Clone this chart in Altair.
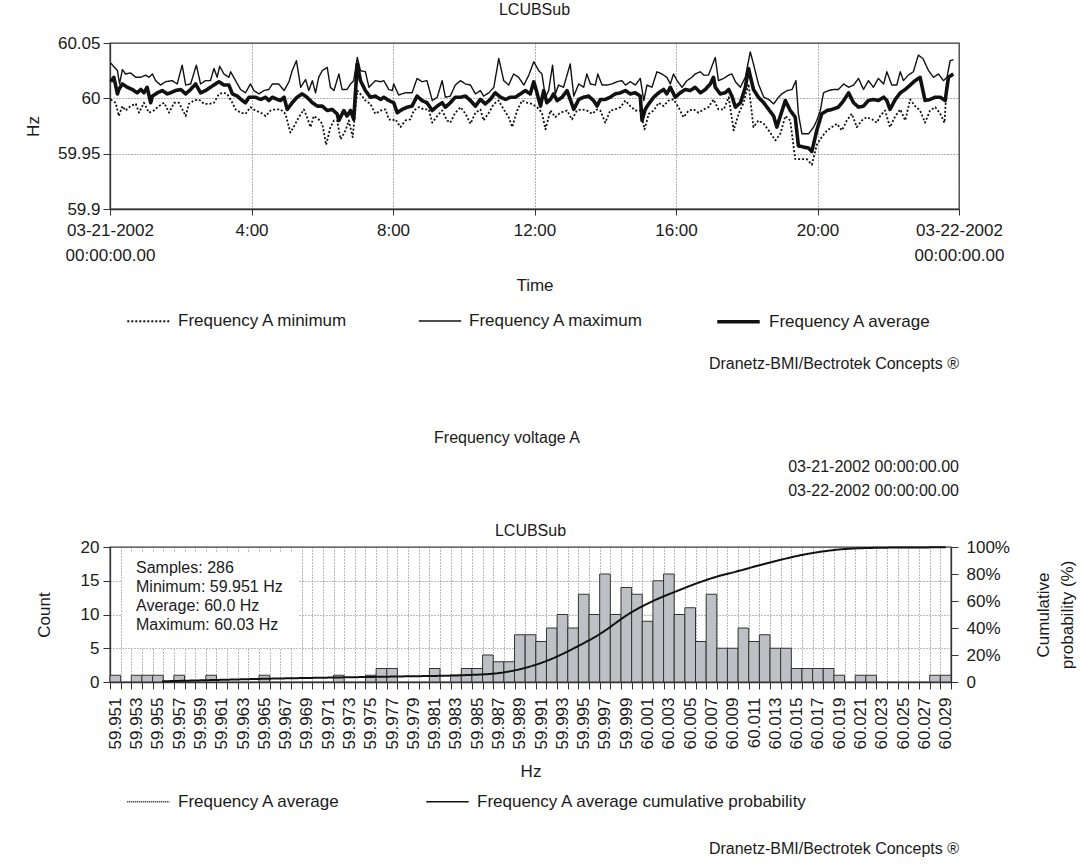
import json
import altair as alt
import pandas as pd

FONT = "Liberation Sans"
INK = "#1a1a1a"

# ---------------- top chart: frequency over the day (hours since 03-21-2002 00:00) ----------------
MAX_H = [0.02, 0.21, 0.27, 0.35, 0.44, 0.58, 0.73, 0.87, 1.01, 1.10, 1.20, 1.29, 1.43, 1.57, 1.76, 1.90,
         2.04, 2.14, 2.28, 2.44, 2.56, 2.70, 2.84, 2.94, 3.03, 3.10, 3.22, 3.36, 3.41, 3.55, 3.69, 3.83,
         3.97, 4.07, 4.21, 4.35, 4.49, 4.59, 4.77, 4.92, 5.06, 5.15, 5.27, 5.39, 5.53, 5.62, 5.72, 5.81,
         5.90, 6.00, 6.14, 6.23, 6.33, 6.47, 6.56, 6.70, 6.80, 6.89, 6.99, 7.08, 7.22, 7.32, 7.41, 7.50,
         7.65, 7.74, 7.88, 7.98, 8.02, 8.16, 8.35, 8.54, 8.68, 8.82, 8.96, 9.11, 9.25, 9.39, 9.48, 9.62,
         9.76, 9.91, 10.05, 10.19, 10.33, 10.47, 10.56, 10.71, 10.85, 10.99, 11.13, 11.27, 11.41, 11.55,
         11.70, 11.84, 11.98, 12.12, 12.21, 12.31, 12.40, 12.51, 12.59, 12.68, 12.82, 13.01, 13.11, 13.25,
         13.39, 13.48, 13.58, 13.72, 13.79, 13.91, 14.05, 14.19, 14.33, 14.47, 14.57, 14.71, 14.85, 14.99,
         15.09, 15.18, 15.32, 15.46, 15.60, 15.74, 15.84, 15.93, 16.03, 16.17, 16.31, 16.45, 16.54, 16.69,
         16.78, 16.92, 17.11, 17.20, 17.35, 17.49, 17.58, 17.68, 17.82, 17.96, 18.10, 18.19, 18.33, 18.48,
         18.62, 18.76, 18.90, 18.99, 19.14, 19.28, 19.39, 19.46, 19.56, 19.75, 19.89, 19.98, 20.08, 20.17,
         20.31, 20.45, 20.59, 20.74, 20.88, 21.02, 21.16, 21.30, 21.44, 21.58, 21.72, 21.87, 21.96, 22.10,
         22.24, 22.34, 22.43, 22.57, 22.71, 22.85, 22.98, 23.14, 23.28, 23.42, 23.56, 23.66, 23.75, 23.84]
MAX_HZ = [60.032, 60.025, 60.013, 60.026, 60.022, 60.023, 60.019, 60.019, 60.021, 60.019, 60.022, 60.016,
          60.012, 60.015, 60.016, 60.013, 60.030, 60.012, 60.013, 60.030, 60.013, 60.016, 60.016, 60.027,
          60.019, 60.029, 60.022, 60.019, 60.024, 60.016, 60.008, 60.005, 60.013, 60.007, 60.004, 60.007,
          60.008, 60.013, 60.013, 60.007, 60.015, 60.025, 60.034, 60.010, 60.017, 60.007, 60.016, 60.005,
          60.019, 60.025, 60.028, 60.010, 60.007, 60.022, 60.008, 60.008, 60.013, 60.016, 60.037, 60.025,
          60.024, 60.010, 60.013, 60.016, 60.015, 60.016, 60.008, 60.007, 60.013, 60.003, 60.005, 60.005,
          60.018, 60.015, 60.016, 59.998, 60.001, 60.016, 60.001, 60.002, 60.012, 60.016, 60.013, 60.012,
          60.004, 60.007, 60.002, 60.005, 60.010, 60.036, 60.016, 60.012, 60.022, 60.019, 60.012, 60.021,
          60.033, 60.025, 60.022, 60.001, 60.007, 60.030, 60.004, 60.012, 60.010, 60.031, 60.002, 60.013,
          60.010, 60.022, 60.013, 60.012, 60.022, 60.012, 60.012, 60.013, 60.015, 60.016, 60.012, 60.015,
          60.012, 60.018, 59.998, 60.012, 60.010, 60.024, 60.022, 60.019, 60.013, 60.022, 60.016, 60.010,
          60.016, 60.019, 60.022, 60.024, 60.021, 60.021, 60.037, 60.016, 60.018, 60.021, 60.022, 60.015,
          60.010, 60.019, 60.042, 60.031, 60.013, 60.001, 59.999, 59.995, 60.001, 60.004, 60.007, 60.008,
          60.016, 59.986, 59.968, 59.968, 59.974, 59.980, 59.989, 60.005, 60.007, 60.008, 60.008, 60.013,
          60.010, 60.012, 60.018, 60.008, 60.016, 60.010, 60.018, 60.013, 60.024, 60.012, 60.012, 60.024,
          60.016, 60.021, 60.024, 60.039, 60.036, 60.025, 60.019, 60.022, 60.016, 60.019, 60.034, 60.035]

AVG_H = [0.02, 0.11, 0.21, 0.25, 0.35, 0.49, 0.63, 0.77, 0.87, 0.96, 1.05, 1.15, 1.20, 1.34, 1.48, 1.62,
         1.71, 1.85, 2.00, 2.14, 2.28, 2.42, 2.56, 2.70, 2.84, 2.98, 3.08, 3.22, 3.36, 3.46, 3.60, 3.74,
         3.83, 3.93, 4.11, 4.26, 4.40, 4.49, 4.59, 4.73, 4.82, 4.92, 5.01, 5.15, 5.29, 5.43, 5.57, 5.72,
         5.86, 6.00, 6.14, 6.28, 6.42, 6.47, 6.61, 6.70, 6.80, 6.89, 6.99, 7.08, 7.22, 7.36, 7.50, 7.65,
         7.74, 7.88, 8.02, 8.12, 8.26, 8.40, 8.54, 8.68, 8.82, 8.96, 9.11, 9.25, 9.39, 9.48, 9.62, 9.76,
         9.91, 10.05, 10.19, 10.33, 10.47, 10.61, 10.75, 10.89, 11.04, 11.18, 11.32, 11.46, 11.60, 11.74,
         11.88, 11.98, 12.07, 12.17, 12.26, 12.35, 12.45, 12.54, 12.64, 12.78, 12.92, 13.01, 13.11, 13.25,
         13.39, 13.53, 13.67, 13.77, 13.86, 14.00, 14.14, 14.28, 14.43, 14.57, 14.71, 14.85, 14.99, 15.04,
         15.13, 15.23, 15.37, 15.51, 15.65, 15.74, 15.84, 15.98, 16.12, 16.26, 16.40, 16.54, 16.69, 16.83,
         16.97, 17.06, 17.11, 17.25, 17.39, 17.49, 17.58, 17.68, 17.82, 17.96, 18.05, 18.19, 18.33, 18.48,
         18.62, 18.76, 18.85, 19.09, 19.23, 19.37, 19.46, 19.75, 19.84, 19.98, 20.12, 20.27, 20.41, 20.59,
         20.74, 20.88, 21.02, 21.16, 21.30, 21.44, 21.58, 21.72, 21.87, 21.96, 22.05, 22.20, 22.34, 22.48,
         22.62, 22.76, 22.90, 23.04, 23.18, 23.33, 23.47, 23.61, 23.70, 23.84]
AVG_HZ = [60.015, 60.019, 60.004, 60.008, 60.013, 60.010, 60.008, 60.005, 60.008, 60.005, 60.010, 59.996,
          60.002, 60.005, 60.007, 60.004, 60.005, 60.007, 60.008, 60.004, 60.008, 60.013, 60.005, 60.007,
          60.010, 60.013, 60.015, 60.012, 60.012, 60.004, 60.002, 59.998, 59.996, 60.001, 60.001, 59.999,
          60.001, 59.998, 60.001, 59.999, 59.998, 60.001, 59.990, 59.996, 60.001, 60.004, 60.001, 59.996,
          59.993, 59.993, 59.989, 59.990, 59.986, 59.980, 59.989, 59.984, 59.989, 59.981, 60.031, 60.016,
          60.007, 60.001, 60.002, 59.999, 60.001, 59.998, 59.996, 59.987, 59.990, 59.992, 59.993, 60.002,
          59.998, 59.996, 59.989, 59.993, 59.996, 59.992, 59.996, 60.001, 60.001, 60.002, 59.998, 59.993,
          59.999, 59.995, 59.999, 60.005, 60.001, 59.999, 60.001, 60.001, 60.004, 60.007, 60.004, 60.015,
          60.005, 59.993, 60.007, 59.996, 59.999, 60.004, 59.998, 60.001, 60.007, 59.999, 59.990, 59.999,
          60.001, 60.002, 59.998, 59.993, 59.999, 59.999, 60.001, 60.004, 60.005, 60.007, 60.004, 60.005,
          60.002, 59.980, 59.990, 59.995, 60.001, 60.005, 60.008, 60.004, 60.010, 60.001, 60.005, 60.008,
          60.007, 60.010, 60.005, 60.008, 60.013, 60.019, 60.010, 60.004, 60.005, 60.008, 60.002, 59.992,
          59.996, 60.010, 60.027, 60.008, 60.001, 59.996, 59.990, 59.984, 59.974, 59.998, 59.989, 59.983,
          59.957, 59.955, 59.952, 59.971, 59.986, 59.989, 59.990, 59.992, 59.998, 60.005, 59.996, 59.992,
          59.993, 59.998, 59.999, 59.998, 60.001, 59.998, 59.990, 59.999, 60.005, 60.008, 60.012, 60.016,
          60.019, 59.998, 59.999, 60.001, 60.001, 59.998, 60.019, 60.022]

MIN_H = [0.02, 0.16, 0.25, 0.35, 0.44, 0.58, 0.73, 0.82, 0.96, 1.10, 1.24, 1.38, 1.53, 1.67, 1.81, 1.95,
         2.14, 2.23, 2.37, 2.51, 2.66, 2.80, 2.94, 3.08, 3.22, 3.31, 3.46, 3.55, 3.69, 3.83, 3.97, 4.11,
         4.26, 4.40, 4.54, 4.68, 4.82, 4.96, 5.10, 5.24, 5.34, 5.48, 5.57, 5.67, 5.76, 5.90, 6.00, 6.11,
         6.23, 6.33, 6.42, 6.52, 6.66, 6.75, 6.86, 6.99, 7.13, 7.22, 7.36, 7.50, 7.65, 7.79, 7.88, 7.98,
         8.07, 8.21, 8.35, 8.49, 8.59, 8.73, 8.87, 9.01, 9.11, 9.25, 9.39, 9.53, 9.62, 9.76, 9.91, 10.05,
         10.19, 10.33, 10.47, 10.56, 10.71, 10.85, 10.99, 11.13, 11.27, 11.37, 11.51, 11.65, 11.79, 11.93,
         12.07, 12.21, 12.31, 12.45, 12.59, 12.73, 12.92, 13.06, 13.20, 13.34, 13.48, 13.63, 13.77, 13.86,
         14.00, 14.14, 14.28, 14.43, 14.57, 14.71, 14.85, 14.99, 15.11, 15.23, 15.37, 15.51, 15.65, 15.79,
         15.93, 16.07, 16.21, 16.36, 16.50, 16.64, 16.78, 16.92, 17.06, 17.20, 17.35, 17.49, 17.63, 17.77,
         17.91, 18.05, 18.19, 18.33, 18.48, 18.62, 18.81, 18.95, 19.09, 19.23, 19.37, 19.56, 19.70, 19.84,
         19.98, 20.12, 20.27, 20.41, 20.55, 20.69, 20.83, 20.97, 21.11, 21.25, 21.39, 21.54, 21.68, 21.77,
         21.91, 22.05, 22.20, 22.34, 22.48, 22.62, 22.76, 22.90, 23.04, 23.18, 23.33, 23.47, 23.59, 23.66]
MIN_HZ = [59.999, 59.996, 59.984, 59.993, 59.989, 59.993, 59.995, 59.987, 59.996, 59.987, 59.989, 59.993,
          59.996, 59.987, 59.996, 59.996, 59.984, 59.995, 59.998, 59.999, 59.995, 59.995, 59.996, 60.004,
          60.005, 60.004, 59.996, 59.990, 59.987, 59.986, 59.992, 59.989, 59.987, 59.984, 59.989, 59.990,
          59.990, 59.986, 59.969, 59.977, 59.983, 59.990, 59.983, 59.974, 59.984, 59.981, 59.977, 59.958,
          59.974, 59.980, 59.980, 59.963, 59.971, 59.980, 59.965, 60.007, 60.002, 59.998, 59.995, 59.986,
          59.989, 59.990, 59.981, 59.980, 59.981, 59.974, 59.980, 59.981, 59.989, 59.992, 59.990, 59.990,
          59.978, 59.984, 59.989, 59.980, 59.978, 59.987, 59.992, 59.986, 59.977, 59.987, 59.990, 59.980,
          59.987, 59.995, 59.998, 59.990, 59.983, 59.974, 59.989, 59.998, 59.996, 59.995, 59.992, 59.987,
          59.972, 59.989, 59.983, 59.987, 59.989, 59.981, 59.989, 59.990, 59.989, 59.986, 59.990, 59.989,
          59.978, 59.989, 59.990, 59.992, 59.998, 59.993, 59.989, 59.989, 59.972, 59.986, 59.989, 59.996,
          59.993, 59.998, 59.999, 59.992, 59.983, 59.989, 59.990, 59.987, 59.990, 59.992, 59.999, 59.990,
          59.990, 60.001, 59.971, 59.986, 59.996, 60.013, 59.974, 59.980, 59.977, 59.971, 59.962, 59.968,
          59.984, 59.980, 59.945, 59.945, 59.945, 59.940, 59.958, 59.965, 59.971, 59.974, 59.977, 59.971,
          59.980, 59.986, 59.974, 59.980, 59.983, 59.981, 59.978, 59.984, 59.989, 59.974, 59.984, 59.990,
          59.980, 59.999, 59.993, 59.989, 59.978, 59.989, 59.992, 59.986, 59.978, 60.015]

SERIES = ["Frequency A minimum", "Frequency A maximum", "Frequency A average"]
TOP_TICKS = [0, 4, 8, 12, 16, 20, 24]
TOP_TICK_TEXT = [["03-21-2002", "00:00:00.00"], "4:00", "8:00", "12:00", "16:00", "20:00",
                 ["03-22-2002", "00:00:00.00"]]
TOP_Y_TICKS = [59.9, 59.95, 60.0, 60.05]
FOOTER = "Dranetz-BMI/Bectrotek Concepts \u00ae"
PANEL_TITLE = "LCUBSub"

# ---------------- bottom chart: histogram of the average frequency ----------------
BIN_HZ = [round(59.951 + 0.001 * i, 3) for i in range(79)]
COUNTS = [1, 0, 1, 1, 1, 0, 1, 0, 0, 1, 0, 0, 0, 0, 1, 0, 0, 0, 0, 0,
          0, 1, 0, 0, 1, 2, 2, 0, 0, 0, 2, 0, 1, 2, 2, 4, 3, 3, 7, 7,
          6, 8, 10, 8, 13, 10, 16, 10, 14, 13, 9, 15, 16, 10, 11, 6, 13, 5, 5, 8,
          6, 7, 5, 5, 2, 2, 2, 2, 1, 0, 1, 1, 0, 0, 0, 0, 0, 1, 1]
CUM_HZ = [59.9554, 59.9604, 59.9651, 59.9714, 59.9776, 59.9839, 59.9870, 59.9895, 59.9915, 59.9945,
          59.9964, 59.9995, 60.0014, 60.0036, 60.0058, 60.0077, 60.0089, 60.0121, 60.0161, 60.0199,
          60.0233, 60.0283, 60.0290]
CUM_PCT = [0.5, 1.5, 2.4, 3.3, 4.1, 5.1, 6.6, 10.5, 15.6, 26.7,
           35.0, 51.7, 59.6, 66.9, 73.6, 78.5, 80.9, 87.7, 95.0, 98.7,
           99.5, 99.8, 99.9]
STATS = ["Samples: 286", "Minimum: 59.951 Hz", "Average: 60.0 Hz", "Maximum: 60.03 Hz"]
HIST_SERIES = ["Frequency A average", "Frequency A average cumulative probability"]
EDGES = [round(59.9505 + 0.001 * k, 4) for k in range(80)]
EDGE_LABELS = [f"{59.951 + 0.001 * k:.3f}" if (k % 2 == 0 and k < 79) else "" for k in range(80)]
COUNT_TICKS = [0, 5, 10, 15, 20]
PCT_TICKS = [0, 20, 40, 60, 80, 100]
HEADER = "Frequency voltage A"
DATES = ["03-21-2002 00:00:00.00", "03-22-2002 00:00:00.00"]

# ================= top chart =================
rows = []
for name, hs, vs in [(SERIES[0], MIN_H, MIN_HZ), (SERIES[1], MAX_H, MAX_HZ), (SERIES[2], AVG_H, AVG_HZ)]:
    for h, v in zip(hs, vs):
        rows.append({"hour": h, "hz": v, "series": name})
ts = pd.DataFrame(rows)

expr = "''"
for t, lab in reversed(list(zip(TOP_TICKS, TOP_TICK_TEXT))):
    expr = f"datum.value == {t} ? {json.dumps(lab)} : ({expr})"

TW, TH = 849, 166
leg_top = alt.Legend(orient="none", legendX=16, legendY=255, direction="horizontal", title=None,
                     symbolType="stroke", symbolSize=1800, symbolStrokeColor="#111",
                     labelFontSize=17, labelFont=FONT, labelColor=INK, labelFontWeight="normal",
                     labelOffset=7, columnPadding=66, labelLimit=400)

lines = alt.Chart(ts).mark_line(color="#111", strokeJoin="round").encode(
    x=alt.X("hour:Q", scale=alt.Scale(domain=[0, 24], nice=False, zero=False),
            axis=alt.Axis(values=TOP_TICKS, labelExpr=expr, title="Time", grid=True,
                          gridDash=[1, 2], gridColor="#666", tickSize=6, labelPadding=7,
                          labelFontSize=17, labelLineHeight=25, titleFontSize=17,
                          titlePadding=14, labelOverlap=False, labelFlush=False, labelBound=False)),
    y=alt.Y("hz:Q", scale=alt.Scale(domain=[59.9, 60.05], nice=False, zero=False),
            axis=alt.Axis(values=TOP_Y_TICKS, format=".2~f", title="Hz", grid=True,
                          gridDash=[1, 2], gridColor="#666", tickSize=7, labelPadding=3,
                          labelFontSize=17, titleFontSize=17, titlePadding=15)),
    strokeDash=alt.StrokeDash("series:N", scale=alt.Scale(domain=SERIES, range=[[2, 2], [1, 0], [1, 0]]),
                              legend=leg_top),
    strokeWidth=alt.StrokeWidth("series:N",
                                scale=alt.Scale(type="ordinal", domain=SERIES, range=[1.8, 1.4, 3.6]),
                                legend=leg_top),
)

footer_top = alt.Chart(pd.DataFrame({"t": [FOOTER]})).mark_text(
    align="right", baseline="middle", fontSize=16, font=FONT, color=INK
).encode(x=alt.value(TW), y=alt.value(321), text="t:N")

top = alt.layer(lines, footer_top).properties(
    width=TW, height=TH,
    title=alt.Title(PANEL_TITLE, fontSize=16, font=FONT, fontWeight="normal", color=INK, offset=16),
)

# ================= bottom chart =================
BW, BH = 841, 135
hist = pd.DataFrame({"hz": BIN_HZ, "count": COUNTS})
cum = pd.DataFrame({"hz": CUM_HZ, "pct": CUM_PCT, "series": HIST_SERIES[1]})

xscale = alt.Scale(domain=[59.9505, 60.0295], nice=False, zero=False)
label_expr = f"{json.dumps(EDGE_LABELS)}[round((datum.value - 59.9505) * 1000)] || ''"
xaxis = alt.Axis(values=EDGES, labelExpr=label_expr, labelAngle=270, labelAlign="right",
                 labelBaseline="middle", labelOffset=5.3, labelFontSize=17, tickSize=7,
                 labelPadding=8, grid=True, gridDash=[1, 2], gridColor="#777", title="Hz",
                 titleFontSize=17, titlePadding=15, labelOverlap=False, labelBound=False,
                 labelFlush=False)

box = alt.Chart(pd.DataFrame({"a": [0]})).mark_rect(fill="white").encode(
    x=alt.value(12), x2=alt.value(188), y=alt.value(6), y2=alt.value(101))

bars = alt.Chart(hist).transform_filter("datum.count > 0").transform_calculate(
    lo="datum.hz - 0.0005", hi="datum.hz + 0.0005"
).mark_bar(fill="#bfc0c5", stroke="#333", strokeWidth=1).encode(
    x=alt.X("lo:Q", scale=xscale, axis=xaxis),
    x2="hi:Q",
    y=alt.Y("count:Q", scale=alt.Scale(domain=[0, 20], nice=False),
            axis=alt.Axis(values=COUNT_TICKS, title="Count", grid=True, gridDash=[1, 2],
                          gridColor="#777", tickSize=7, labelPadding=4, labelFontSize=17,
                          titleFontSize=17, titlePadding=27)),
    y2=alt.datum(0),
)

leg_bot = alt.Legend(orient="none", legendX=16, legendY=232, direction="horizontal", title=None,
                     symbolType="stroke", symbolSize=1800, symbolStrokeColor="#111",
                     symbolStrokeWidth=1.6, labelFontSize=17, labelFont=FONT, labelColor=INK,
                     labelFontWeight="normal", labelOffset=7, columnPadding=82, labelLimit=500)

cum_line = alt.Chart(cum).mark_line(color="#111", strokeWidth=2, interpolate="monotone").encode(
    x=alt.X("hz:Q", scale=xscale, axis=xaxis),
    y=alt.Y("pct:Q", scale=alt.Scale(domain=[0, 100], nice=False),
            axis=alt.Axis(orient="right", values=PCT_TICKS,
                          labelExpr="datum.value == 0 ? '0' : datum.value + '%'",
                          title=["Cumulative", "probability (%)"], titleAngle=270,
                          grid=False, tickSize=7, labelPadding=8, labelFontSize=17,
                          titleFontSize=17, titlePadding=19, titleLineHeight=24)),
    strokeDash=alt.StrokeDash("series:N", scale=alt.Scale(domain=HIST_SERIES, range=[[1, 1], [1, 0]]),
                              legend=leg_bot),
)

stats = alt.Chart(pd.DataFrame({"a": [0]})).mark_text(
    align="left", baseline="top", fontSize=16, font=FONT, color=INK, lineHeight=19
).encode(x=alt.value(26), y=alt.value(13), text=alt.value(STATS))

panel_title = alt.Chart(pd.DataFrame({"t": [PANEL_TITLE]})).mark_text(
    align="center", baseline="middle", fontSize=16, font=FONT, color=INK
).encode(x=alt.value(BW / 2), y=alt.value(-16), text="t:N")

header = alt.Chart(pd.DataFrame({"t": [HEADER]})).mark_text(
    align="center", baseline="middle", fontSize=16, font=FONT, color=INK
).encode(x=alt.value(397), y=alt.value(-109), text="t:N")

dates = alt.Chart(pd.DataFrame({"a": [0]})).mark_text(
    align="right", baseline="middle", fontSize=16, font=FONT, color=INK, lineHeight=24
).encode(x=alt.value(BW + 8), y=alt.value(-80), text=alt.value(DATES))

footer_bot = alt.Chart(pd.DataFrame({"t": [FOOTER]})).mark_text(
    align="right", baseline="middle", fontSize=16, font=FONT, color=INK
).encode(x=alt.value(BW + 8), y=alt.value(302), text="t:N")

bottom = alt.layer(box, bars, cum_line, stats, panel_title, header, dates, footer_bot).resolve_scale(
    y="independent"
).properties(width=BW, height=BH)

chart = alt.vconcat(top, bottom, spacing=338, bounds="flush").resolve_scale(
    strokeDash="independent", strokeWidth="independent"
).resolve_legend(
    strokeDash="independent", strokeWidth="independent"
).configure(
    font=FONT,
    padding={"left": 23, "top": 1, "right": 2, "bottom": 5},
).configure_view(stroke="#333", strokeWidth=1.3).configure_axis(
    labelFont=FONT, titleFont=FONT, labelColor=INK, titleColor=INK, titleFontWeight="normal",
    domainColor="#333", tickColor="#333", domainWidth=1.3,
).configure_legend(labelFontWeight="normal")

chart.save("out.html", embed_options={"renderer": "svg", "actions": False})
